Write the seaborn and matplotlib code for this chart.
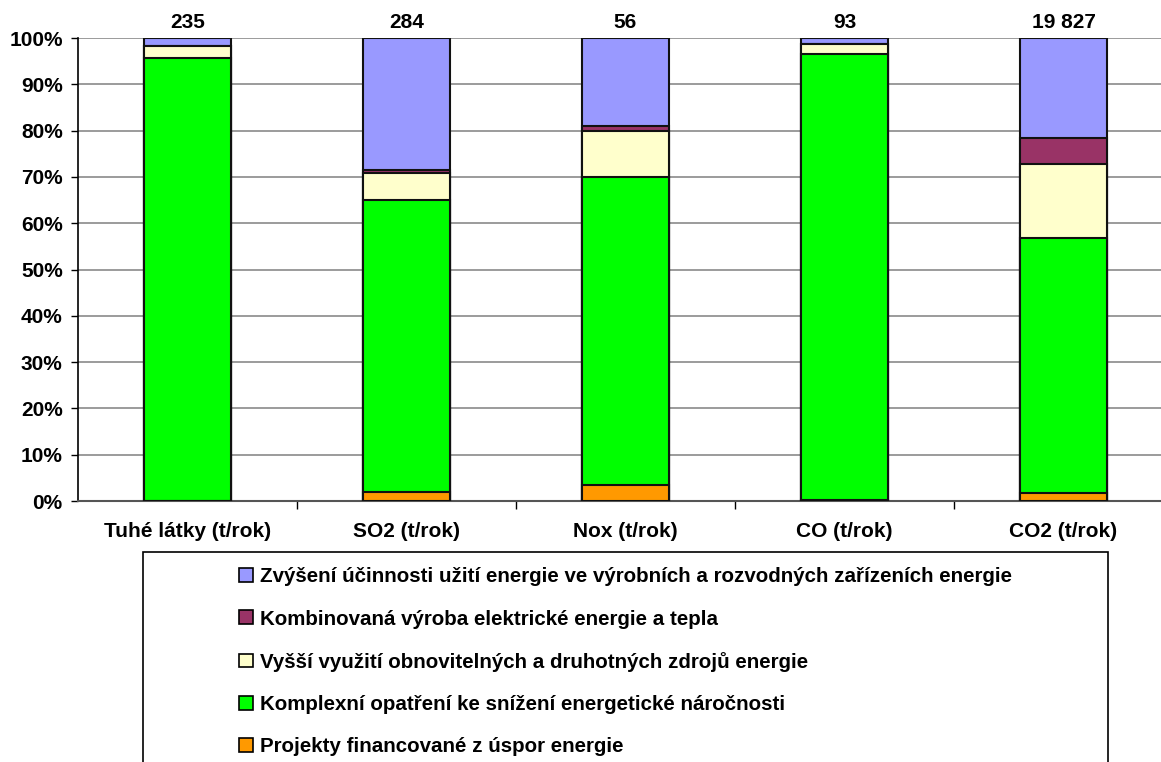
import matplotlib
matplotlib.use("Agg")
import matplotlib.pyplot as plt
from matplotlib.patches import Patch, Rectangle
from matplotlib.ticker import FixedLocator
import numpy as np
import pandas as pd
import seaborn as sns

# Emission categories (x axis) and total reductions shown above the bars
categories = ["Tuhé látky (t/rok)", "SO2 (t/rok)", "Nox (t/rok)", "CO (t/rok)", "CO2 (t/rok)"]
totals = [235, 284, 56, 93, 19827]

# Share of each measure type in the reduction, percent
projekty = [0.0, 1.9, 3.5, 0.2, 1.8]
komplexni = [95.6, 63.1, 66.5, 96.3, 54.9]
obnovitelne = [2.7, 5.8, 9.9, 2.2, 16.0]
kombinovana = [0.0, 0.7, 1.0, 0.0, 5.8]
ucinnost = [1.7, 28.5, 19.1, 1.3, 21.5]

series_names = [
    "Projekty financované z úspor energie",
    "Komplexní opatření ke snížení energetické náročnosti",
    "Vyšší využití obnovitelných a druhotných zdrojů energie",
    "Kombinovaná výroba elektrické energie a tepla",
    "Zvýšení účinnosti užití energie ve výrobních a rozvodných zařízeních energie",
]
series_values = [projekty, komplexni, obnovitelne, kombinovana, ucinnost]
series_colors = ["#FF9900", "#00FF00", "#FFFFCC", "#993366", "#9999FF"]

sns.set_style("white")
plt.rcParams["font.family"] = ["Liberation Sans", "DejaVu Sans"]
plt.rcParams["font.weight"] = "bold"
plt.rcParams["text.color"] = "black"
plt.rcParams["xtick.color"] = "black"
plt.rcParams["ytick.color"] = "black"

FS = 15

fig = plt.figure(figsize=(11.61, 7.62), dpi=100)
W, H = 1161, 762
ax = fig.add_axes([78 / W, 1 - 501 / H, 1095 / W, 463 / H])

# Cumulative stack heights, drawn from the tallest down so each layer covers the one above
vals = np.array(series_values, dtype=float)
vals = vals / vals.sum(axis=0) * 100
cum = np.cumsum(vals, axis=0)

for k in range(len(series_names) - 1, -1, -1):
    df = pd.DataFrame({"cat": categories, "val": cum[k]})
    sns.barplot(data=df, x="cat", y="val", order=categories, color=series_colors[k],
                saturation=1, width=0.4, edgecolor="#111111", linewidth=1.5,
                ax=ax, zorder=3)

ax.set_xlim(-0.5, len(categories) - 0.5)
ax.set_ylim(0, 100)
ax.set_xlabel("")
ax.set_ylabel("")

# Gridlines every 10 %
ax.set_yticks(np.arange(0, 101, 10))
ax.set_yticklabels([f"{v}%" for v in range(0, 101, 10)], fontsize=FS, fontweight="bold")
for v in range(10, 101, 10):
    ax.axhline(v, color="#8a8a8a", lw=1.2, zorder=1)

ax.tick_params(axis="y", direction="out", length=5, width=1, color="black", pad=6, left=True,
               labelcolor="black")
ax.tick_params(axis="x", which="major", length=0, pad=15, labelcolor="black")
ax.xaxis.set_minor_locator(FixedLocator(np.arange(0.5, len(categories) - 0.5, 1)))
ax.tick_params(axis="x", which="minor", direction="out", length=6, width=1, color="black", bottom=True)
for lab in ax.get_xticklabels():
    lab.set_fontsize(FS)
    lab.set_fontweight("bold")

for s in ["top", "right"]:
    ax.spines[s].set_visible(False)
ax.spines["left"].set_color("black")
ax.spines["left"].set_linewidth(1.2)
ax.spines["bottom"].set_color("#555555")
ax.spines["bottom"].set_linewidth(1.5)

# Totals above each bar
for i, t in enumerate(totals):
    ax.annotate(f"{t:,}".replace(",", " "), xy=(i, 100), xytext=(0, 4),
                textcoords="offset points", ha="center", va="bottom",
                fontsize=FS, fontweight="bold", color="black", clip_on=False)

# Legend in a framed box below the chart
fig.patches.append(Rectangle((143 / W, -0.05), (1108 - 143) / W, (H - 552) / H + 0.05,
                             transform=fig.transFigure, fill=False,
                             edgecolor="black", lw=1.2, zorder=0))
handles = [Patch(facecolor=series_colors[k], edgecolor="black", linewidth=1.2)
           for k in range(len(series_names) - 1, -1, -1)]
labels = [series_names[k] for k in range(len(series_names) - 1, -1, -1)]
fig.legend(handles, labels, loc="upper center", bbox_to_anchor=(625.5 / W, 1 - 557 / H),
           frameon=False, prop={"size": 14.8, "weight": "bold"}, labelcolor="black",
           handlelength=0.65, handleheight=0.65, handletextpad=0.35, labelspacing=1.13,
           borderpad=0)

fig.savefig("out.png", dpi=100)
